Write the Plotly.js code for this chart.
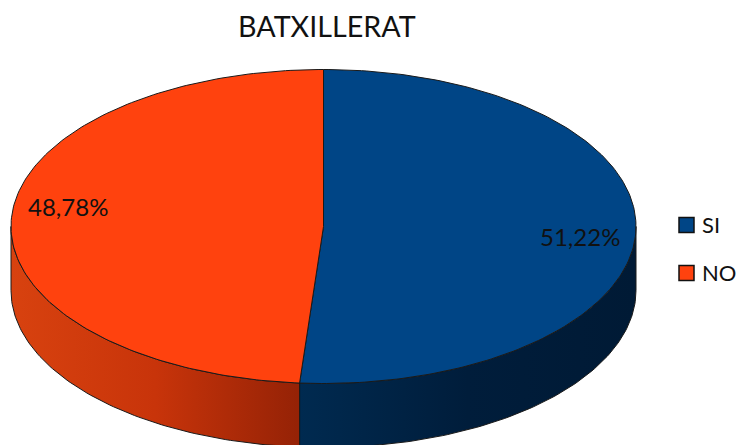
<!DOCTYPE html>
<html><head><meta charset="utf-8">
<script src="https://cdn.plot.ly/plotly-3.0.1.min.js"></script>
<style>html,body{margin:0;padding:0;background:#fff}#c{width:738px;height:445px}</style>
</head><body><div id="c"></div>
<script>
const categories = ["SI", "NO"];
const values = [51.22, 48.78];
const topColors = ["#004586", "#ff420e"];
const sideScales = [
  [[0, "#002a50"], [0.5, "#001d3b"], [1, "#001a35"]],
  [[0, "#d8420f"], [0.5, "#c8340a"], [1, "#952206"]]
];
const title = "BATXILLERAT";

// projection of the tilted disc
const cx = 323.5, cy = 226.5, rx = 312.5, ry = 157, depth = 64, edge = "#1a1a1a";
const pt = (deg, dy) => {
  const a = deg * Math.PI / 180;
  return [cx + rx * Math.sin(a), cy - ry * Math.cos(a) + (dy || 0)];
};
const arc = (from, to, dy) => {
  const out = [], n = Math.max(2, Math.ceil(Math.abs(to - from)));
  for (let i = 0; i <= n; i++) out.push(pt(from + (to - from) * i / n, dy));
  return out;
};
const total = values.reduce((a, b) => a + b, 0);
const splits = [0];
values.forEach(v => splits.push(splits[splits.length - 1] + v / total * 360));

const poly = (pts, extra) => Object.assign({
  type: "scatter", mode: "lines", hoverinfo: "skip", showlegend: false,
  x: pts.map(p => p[0]), y: pts.map(p => p[1]), fill: "toself",
  line: {color: edge, width: 1}
}, extra);

const traces = [];
// side walls (only the front half of the disc is visible)
const walls = [[90, splits[1]], [splits[1], 270]];
walls.forEach((w, i) => {
  const pts = arc(w[0], w[1], 0).concat(arc(w[1], w[0], depth));
  pts.push(pts[0]);
  traces.push(poly(pts, {fillgradient: {type: "horizontal", colorscale: sideScales[i]}}));
});
// top faces
categories.forEach((c, i) => {
  const pts = [[cx, cy]].concat(arc(splits[i], splits[i + 1], 0));
  pts.push([cx, cy]);
  traces.push(poly(pts, {fillcolor: topColors[i]}));
});
// legend swatches
const legendX = 686.5, legendY = [225, 273];
traces.push({
  type: "scatter", mode: "markers", hoverinfo: "skip", showlegend: false,
  x: categories.map(() => legendX), y: legendY,
  marker: {symbol: "square", size: 15, color: topColors, line: {color: "#111", width: 1.5}}
});

const font = "Lato, 'Liberation Sans', sans-serif";
const ann = (x, y, text, anchor, size) => ({
  x, y, text, xref: "x", yref: "y", showarrow: false, xanchor: anchor || "center", yanchor: "middle",
  font: {family: font, size: size || 22, color: "#111"}
});
const pct = v => v.toFixed(2).replace(".", ",") + "%";
const annotations = [
  ann(580, 236, pct(values[0]), "center", 24),
  ann(68, 206, pct(values[1]), "center", 24),
  ann(700, legendY[0] - 1, categories[0], "left"),
  ann(700, legendY[1] - 1, categories[1], "left"),
  ann(326.5, 25.5, title, "center", 28.7)
];

Plotly.newPlot("c", traces, {
  width: 738, height: 445, margin: {l: 0, r: 0, t: 0, b: 0},
  paper_bgcolor: "#fff", plot_bgcolor: "#fff", showlegend: false,
  xaxis: {range: [0, 738], visible: false, fixedrange: true},
  yaxis: {range: [445, 0], visible: false, fixedrange: true},
  annotations
}, {displayModeBar: false, staticPlot: true});
</script></body></html>
